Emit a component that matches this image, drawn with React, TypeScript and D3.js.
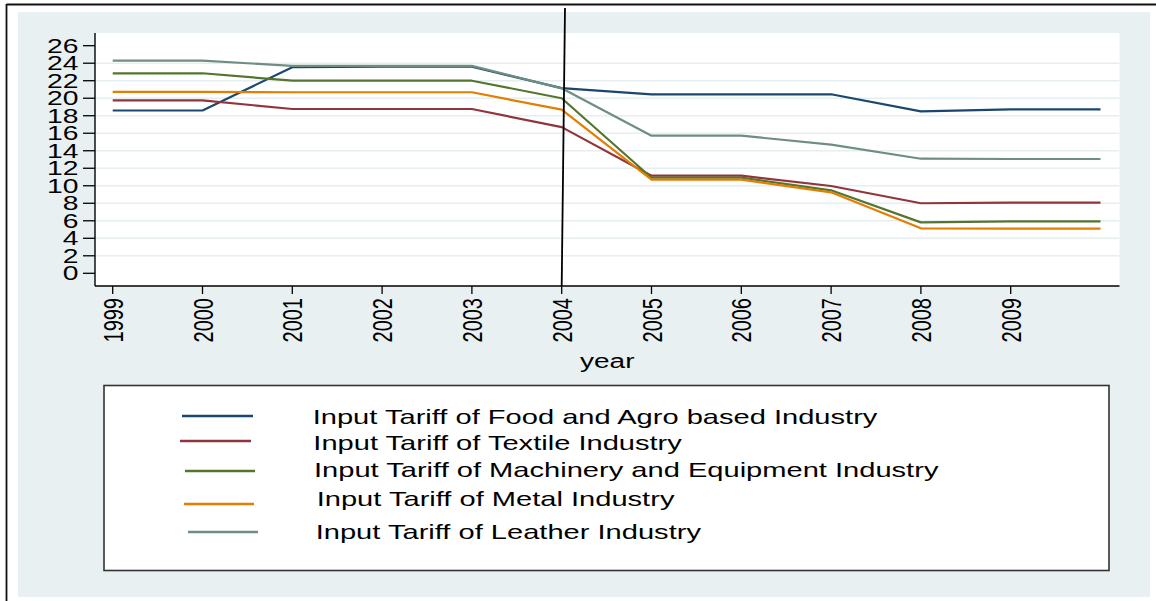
import React from "react";
import * as d3 from "d3";

const years = [1999, 2000, 2001, 2002, 2003, 2004, 2005, 2006, 2007, 2008, 2009, 2010];
const food = [18.6, 18.6, 23.55, 23.6, 23.6, 21.15, 20.45, 20.45, 20.45, 18.5, 18.73, 18.73];
const textile = [19.76, 19.76, 18.77, 18.77, 18.77, 16.7, 11.15, 11.15, 9.97, 8.0, 8.07, 8.07];
const machinery = [22.85, 22.85, 22.0, 22.0, 22.0, 20.0, 10.92, 10.92, 9.48, 5.82, 5.94, 5.94];
const metal = [20.72, 20.72, 20.68, 20.68, 20.68, 18.69, 10.7, 10.7, 9.25, 5.14, 5.1, 5.1];
const leather = [24.29, 24.29, 23.7, 23.7, 23.7, 21.13, 15.72, 15.72, 14.69, 13.09, 13.06, 13.06];

const seriesNames = [
  "Input Tariff of Food and Agro based Industry",
  "Input Tariff of Textile Industry",
  "Input Tariff of Machinery and Equipment Industry",
  "Input Tariff of Metal Industry",
  "Input Tariff of Leather Industry",
];
const seriesValues = [food, textile, machinery, metal, leather];
const seriesColors = ["#1a476f", "#90353b", "#55752f", "#e37e00", "#6e8e84"];

const yTicks = d3.range(0, 27, 2);
const xTicks = [1999, 2000, 2001, 2002, 2003, 2004, 2005, 2006, 2007, 2008, 2009];
const markerYear = 2004;

// legend layout (line x0, x1, line y, text x, text baseline)
const legendLayout = [
  [182, 253, 416, 312.7, 423.5],
  [180, 251, 441, 313.3, 450],
  [185, 255, 471, 314, 476.5],
  [184, 254, 504, 316.7, 505.5],
  [188, 258, 532, 315.7, 538.5],
];

const FONT = "'Liberation Sans', Arial, Helvetica, sans-serif";
const SX = 1.4;

export default function App() {
  const x = d3.scaleLinear().domain([1999, 2010]).range([112.7, 1100.5]);
  const y = d3.scaleLinear().domain([0, 26]).range([273.3, 45.7]);
  const plot = { left: 95, right: 1119.5, top: 33, bottom: 286 };

  const line = d3
    .line<number>()
    .x((_, i) => x(years[i]))
    .y((d) => y(d));

  const xm = x(markerYear);

  return (
    <svg
      width={1156}
      height={601}
      style={{ position: "absolute", left: 0, top: 0, background: "#ffffff" }}
      fontFamily={FONT}
    >
      {/* graph region background */}
      <rect x={18} y={12} width={1132} height={585} fill="#e8f0f2" />
      {/* outer frame (top and left) */}
      <line x1={6.5} x2={1156} y1={4.5} y2={4.5} stroke="#111" strokeWidth={1.8} />
      <line x1={6.5} x2={6.5} y1={4} y2={601} stroke="#111" strokeWidth={1.8} />

      {/* plot region */}
      <rect x={plot.left} y={plot.top} width={plot.right - plot.left} height={plot.bottom - plot.top} fill="#ffffff" />

      {/* gridlines */}
      {yTicks
        .filter((t) => t !== 0 && t !== 26)
        .map((t) => (
          <line key={"g" + t} x1={plot.left} x2={plot.right} y1={y(t)} y2={y(t)} stroke="#e6eef1" strokeWidth={1.6} />
        ))}

      {/* series */}
      {seriesValues.map((vals, i) => (
        <path key={"s" + i} d={line(vals) || ""} fill="none" stroke={seriesColors[i]} strokeWidth={2.2} strokeLinejoin="round" />
      ))}

      {/* vertical marker line */}
      <line x1={xm + 3.3} y1={8} x2={xm} y2={plot.bottom} stroke="#000" strokeWidth={1.8} />

      {/* axes */}
      <line x1={plot.left} x2={plot.left} y1={plot.top} y2={plot.bottom} stroke="#000" strokeWidth={1.4} />
      <line x1={plot.left} x2={plot.right} y1={plot.bottom} y2={plot.bottom} stroke="#000" strokeWidth={1.4} />

      {/* y ticks & labels */}
      {yTicks.map((t) => (
        <g key={"yt" + t}>
          <line x1={83} x2={plot.left} y1={y(t)} y2={y(t)} stroke="#000" strokeWidth={1.3} />
          <text
            transform={`translate(78.5,${y(t)}) scale(1.45,1)`}
            textAnchor="end"
            dy="0.36em"
            fontSize={19.5}
            fill="#000"
          >
            {t}
          </text>
        </g>
      ))}

      {/* x ticks & labels */}
      {xTicks.map((t) => (
        <g key={"xt" + t}>
          <line x1={x(t)} x2={x(t)} y1={plot.bottom} y2={plot.bottom + 8} stroke="#000" strokeWidth={1.3} />
          <text
            transform={`translate(${x(t)},298) scale(${SX},1) rotate(-90)`}
            textAnchor="end"
            dy="0.36em"
            fontSize={20}
            fill="#000"
          >
            {t}
          </text>
        </g>
      ))}

      {/* x axis title */}
      <text
        transform={`translate(${(plot.left + plot.right) / 2},367.5) scale(${SX},1)`}
        textAnchor="middle"
        fontSize={20}
        fill="#000"
      >
        year
      </text>

      {/* legend */}
      <rect x={104} y={385.5} width={1005} height={185} fill="#ffffff" stroke="#333" strokeWidth={1.6} />
      {seriesNames.map((name, i) => {
        const [lx0, lx1, ly, tx, ty] = legendLayout[i];
        return (
          <g key={"lg" + i}>
            <line x1={lx0} x2={lx1} y1={ly} y2={ly} stroke={seriesColors[i]} strokeWidth={2.4} />
            <text transform={`translate(${tx},${ty}) scale(1.385,1)`} fontSize={21} fill="#000">
              {name}
            </text>
          </g>
        );
      })}
    </svg>
  );
}
